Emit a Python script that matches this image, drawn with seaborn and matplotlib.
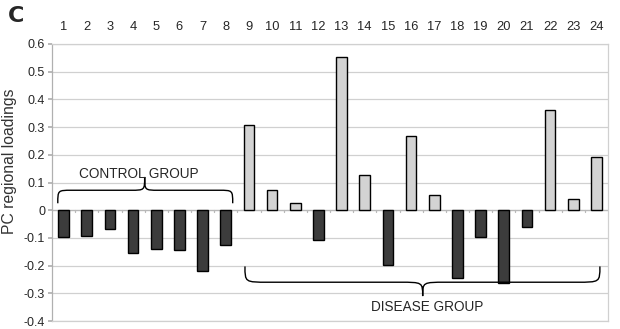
import numpy as np
import pandas as pd
import seaborn as sns
import matplotlib
matplotlib.use("Agg")
import matplotlib.pyplot as plt
from matplotlib.path import Path
from matplotlib.patches import PathPatch

regions = [str(i) for i in range(1, 25)]
loadings = [-0.098, -0.094, -0.069, -0.153, -0.140, -0.144, -0.218, -0.126,
            0.308, 0.072, 0.026, -0.106, 0.552, 0.127, -0.197, 0.268,
            0.054, -0.245, -0.097, -0.262, -0.062, 0.360, 0.042, 0.193]
y_ticks = [0.6, 0.5, 0.4, 0.3, 0.2, 0.1, 0, -0.1, -0.2, -0.3, -0.4]
y_ticklabels = ["0.6", "0.5", "0.4", "0.3", "0.2", "0.1", "0", "-0.1", "-0.2", "-0.3", "-0.4"]
control_label = "CONTROL GROUP"
disease_label = "DISEASE GROUP"

df = pd.DataFrame({"region": regions, "loading": loadings})
df["sign"] = np.where(df["loading"] < 0, "neg", "pos")

sns.set_theme(style="white")
plt.rcParams["font.family"] = ["Liberation Sans", "DejaVu Sans"]

fig = plt.figure(figsize=(6.2, 3.29), dpi=100)
ax = fig.add_axes([52/620, 1-321/329, (608-52)/620, (321-44)/329])

sns.barplot(data=df, x="region", y="loading", hue="sign", order=regions,
            palette={"neg": "#3c3c3c", "pos": "#d3d3d3"}, dodge=False,
            width=0.46, edgecolor="black", linewidth=1.0, legend=False, ax=ax,
            zorder=3)

ax.set_xlim(-0.5, 23.5)
ax.set_ylim(-0.4, 0.6)
ax.set_yticks(y_ticks)
ax.set_yticklabels(y_ticklabels, fontsize=9)
for y in y_ticks:
    if y != 0:
        ax.axhline(y, color="#d0d0d0", lw=0.9, zorder=0)
ax.axhline(0, color="#b8b8b8", lw=1.0, zorder=1)
for b in np.arange(0.5, 23.5, 1.0):
    ax.plot([b, b], [0, -0.008], color="#b8b8b8", lw=0.9, zorder=1)

ax.xaxis.tick_top()
ax.tick_params(axis="x", length=0, pad=8, labelsize=9.3)
ax.tick_params(axis="y", length=3, color="#b0b0b0", left=True, pad=2)
ax.set_xlabel("")
ax.set_ylabel("")

for s in ["top", "right", "bottom"]:
    ax.spines[s].set_color("#d0d0d0")
    ax.spines[s].set_linewidth(0.9)
ax.spines["left"].set_color("#b0b0b0")
ax.spines["left"].set_linewidth(0.9)

fig.text(10/620, 1-161/329, "PC regional loadings", rotation=90, fontsize=11.3,
         color="#333333", ha="center", va="center")


def brace(ax, x0, x1, xtip, yend, yflat, ytip, dx=0.45):
    verts = [
        (x0, yend),
        (x0, yflat), (x0, yflat), (x0 + dx, yflat),
        (xtip - dx, yflat),
        (xtip, yflat), (xtip, yflat), (xtip, ytip),
        (xtip, yflat), (xtip, yflat), (xtip + dx, yflat),
        (x1 - dx, yflat),
        (x1, yflat), (x1, yflat), (x1, yend),
    ]
    codes = [Path.MOVETO,
             Path.CURVE4, Path.CURVE4, Path.CURVE4,
             Path.LINETO,
             Path.CURVE4, Path.CURVE4, Path.CURVE4,
             Path.CURVE4, Path.CURVE4, Path.CURVE4,
             Path.LINETO,
             Path.CURVE4, Path.CURVE4, Path.CURVE4]
    ax.add_patch(PathPatch(Path(verts, codes), fill=False, lw=1.0,
                           edgecolor="black", zorder=4))

brace(ax, -0.25, 7.3, 3.5, 0.025, 0.072, 0.12, dx=0.6)
brace(ax, 7.83, 23.15, 15.5, -0.203, -0.26, -0.31, dx=1.0)

ax.text(3.25, 0.13, control_label, ha="center", va="center", fontsize=9.8, zorder=5)
ax.text(15.7, -0.348, disease_label, ha="center", va="center", fontsize=9.8, zorder=5)

fig.text(8/620, 1-16/329, "C", fontsize=16, fontweight="bold", ha="left",
         va="center", family=["DejaVu Sans"])

fig.savefig("out.png", dpi=100, facecolor="white")
